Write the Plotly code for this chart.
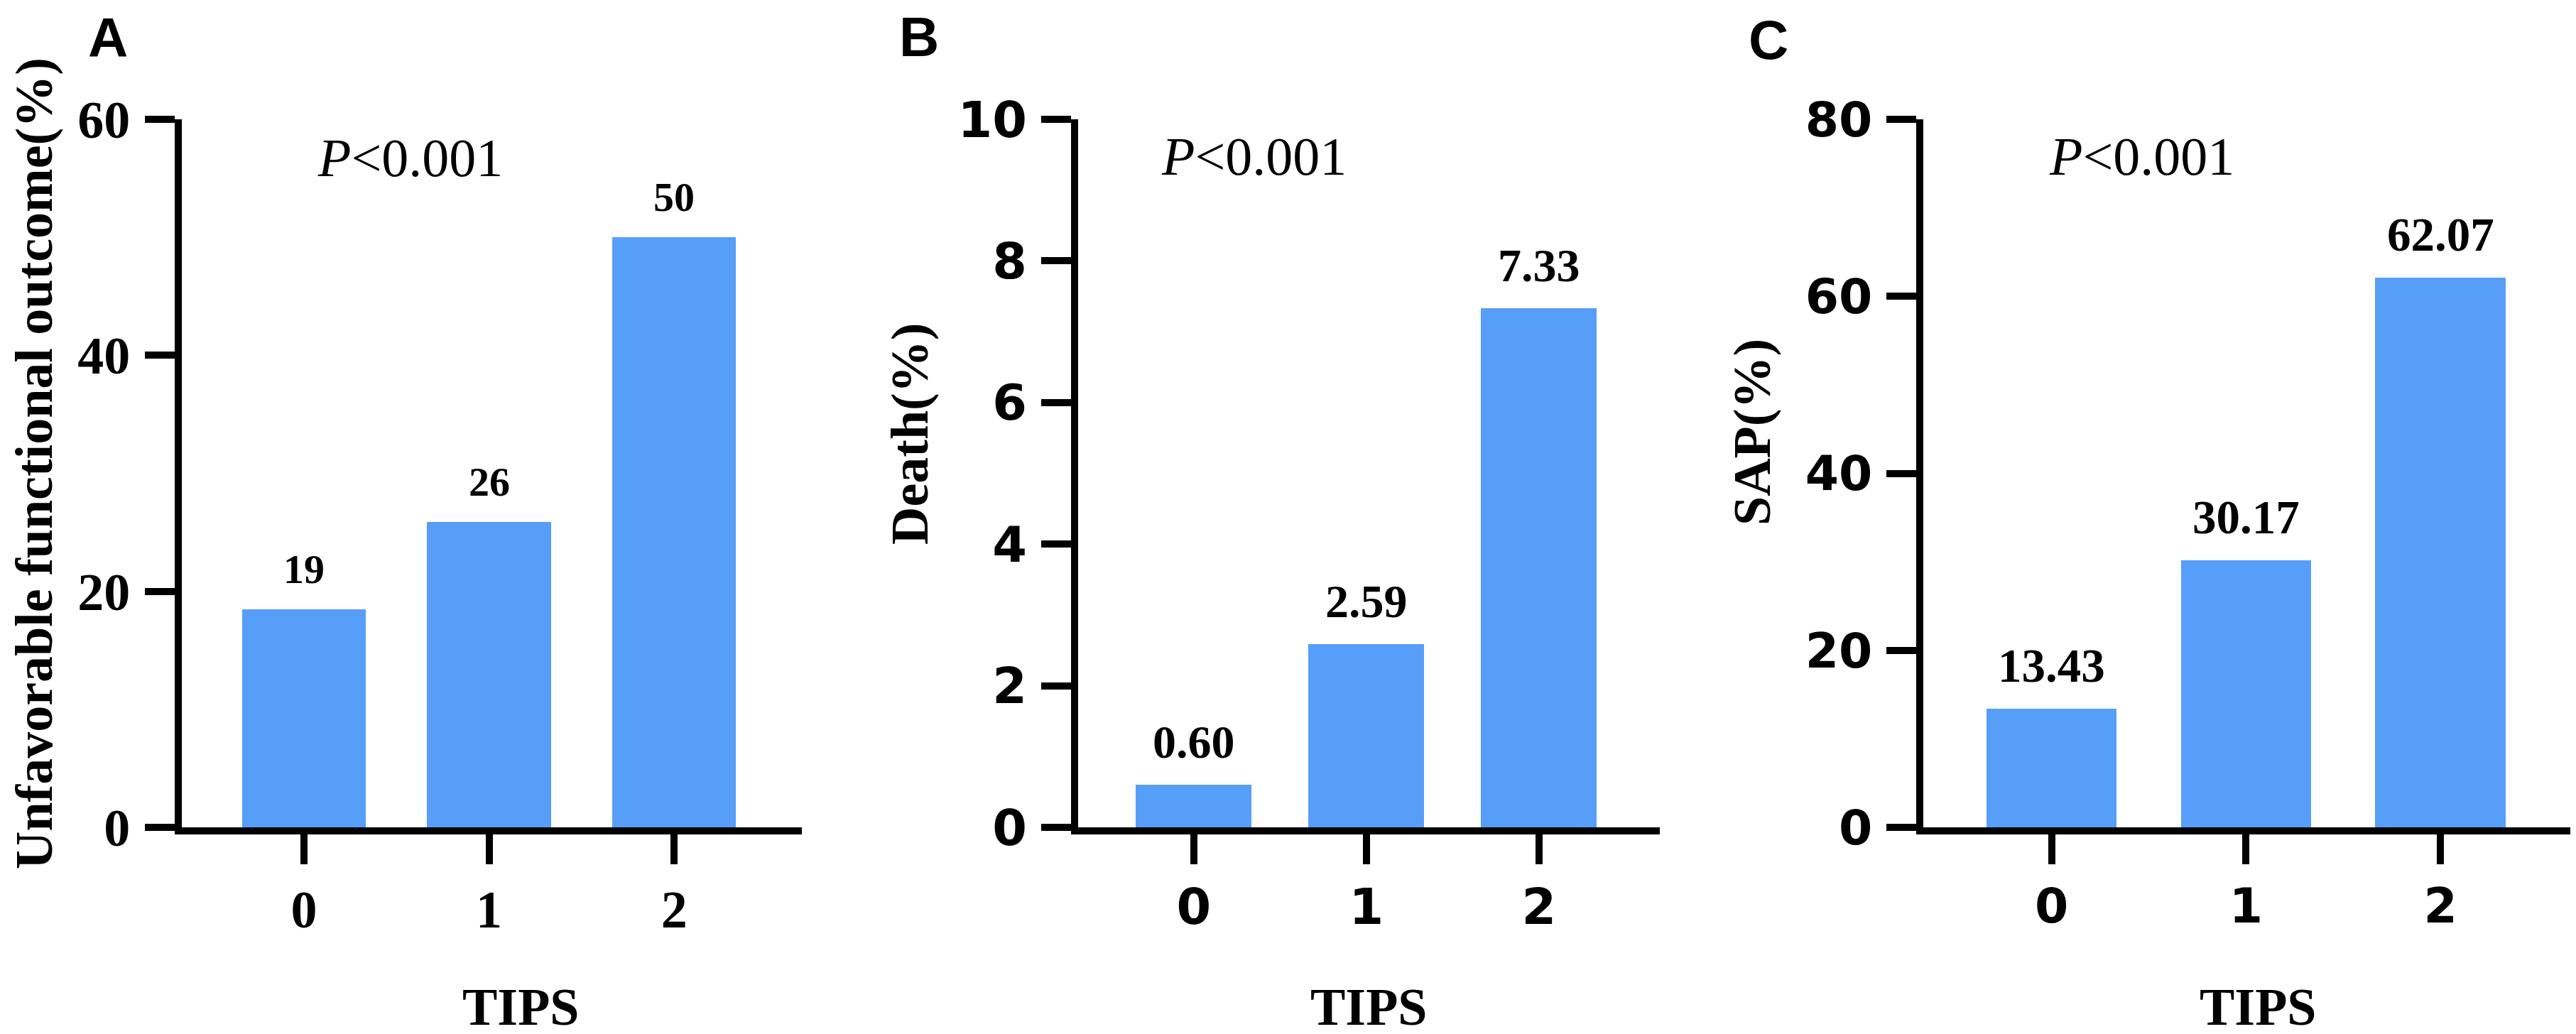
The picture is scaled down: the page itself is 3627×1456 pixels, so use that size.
import plotly.graph_objects as go

# data
tips = ['0', '1', '2']

unfavorable = [18.5, 25.9, 50.0]
unfavorable_text = ['19', '26', '50']

death = [0.60, 2.59, 7.33]
death_text = ['0.60', '2.59', '7.33']

sap = [13.43, 30.17, 62.07]
sap_text = ['13.43', '30.17', '62.07']

panel_letters = ['A', 'B', 'C']
y_titles = ['Unfavorable functional outcome(%)', 'Death(%)', 'SAP(%)']
y_ranges = [[0, 60], [0, 10], [0, 80]]
y_dticks = [20, 2, 20]

W, H = 3627, 1456
BAR_COLOR = '#579ef8'
SERIF = 'Liberation Serif'
SANS = 'DejaVu Sans'


def px_x(p):
    return p / W


def px_y(p):
    return 1 - p / H


# pixel layout of the three panels (axis left, axis right, x-range)
panels = [
    dict(x0=248, x1=1121, xr=[-0.66, 2.69], tickfont=SERIF, tsize=74, vsize=58,
         letter=(144, 45), ptxt=(569, 214), ytitle=(40, 645), xtitle=(725, 1410)),
    dict(x0=1510, x1=2329, xr=[-0.67, 2.70], tickfont=SANS, tsize=70, vsize=66,
         letter=(1286, 44), ptxt=(1757, 212), ytitle=(1273, 603), xtitle=(1919, 1410)),
    dict(x0=2700, x1=3617, xr=[-0.66, 2.69], tickfont=SANS, tsize=68, vsize=67,
         letter=(2482, 48), ptxt=(3007, 212), ytitle=(2459, 601), xtitle=(3171, 1410)),
]
series = [(unfavorable, unfavorable_text), (death, death_text), (sap, sap_text)]

fig = go.Figure()
annotations = []

for i, (p, (vals, labels)) in enumerate(zip(panels, series)):
    n = '' if i == 0 else str(i + 1)
    xa, ya = 'x' + n, 'y' + n

    fig.add_trace(go.Bar(
        x=tips, y=vals, width=0.67,
        marker=dict(color=BAR_COLOR, line=dict(width=0)),
        xaxis=xa, yaxis=ya, showlegend=False, hoverinfo='x+y',
    ))

    axis_common = dict(
        showline=True, linecolor='black', linewidth=10,
        ticks='outside', ticklen=42, tickwidth=10, tickcolor='black',
        showgrid=False, zeroline=False, automargin=False,
        tickfont=dict(family=p['tickfont'], size=p['tsize'], color='black', weight='bold'),
    )
    fig.layout['xaxis' + n] = dict(
        axis_common, domain=[px_x(p['x0']), px_x(p['x1'])], range=p['xr'],
        type='category', anchor=ya, fixedrange=True,
    )
    fig.layout['yaxis' + n] = dict(
        axis_common, domain=[px_y(1157), px_y(160)], range=y_ranges[i],
        dtick=y_dticks[i], anchor=xa, fixedrange=True, ticklabelstandoff=6,
    )

    # value labels above the bars
    for cat, v, t in zip(tips, vals, labels):
        annotations.append(dict(
            x=cat, y=v, xref=xa, yref=ya, text=t, showarrow=False,
            yanchor='bottom', yshift=22,
            font=dict(family=SERIF, size=p['vsize'], color='black', weight='bold'),
        ))

    # panel letter
    lx, ly = p['letter']
    annotations.append(dict(
        x=px_x(lx), y=px_y(ly), xref='paper', yref='paper', text=panel_letters[i],
        showarrow=False, xanchor='center', yanchor='middle',
        font=dict(family='Liberation Sans', size=78, color='black', weight='bold'),
    ))

    # p value
    tx, ty = p['ptxt']
    annotations.append(dict(
        x=px_x(tx), y=px_y(ty), xref='paper', yref='paper',
        text='<i>P</i>&lt;0.001', showarrow=False, xanchor='center', yanchor='middle',
        font=dict(family=SERIF, size=76, color='black'),
    ))

    # y axis title
    yx, yy = p['ytitle']
    annotations.append(dict(
        x=px_x(yx), y=px_y(yy), xref='paper', yref='paper', text=y_titles[i],
        textangle=-90, showarrow=False, xanchor='center', yanchor='middle',
        font=dict(family=SERIF, size=74, color='black', weight='bold'),
    ))

    # x axis title
    xx, xy = p['xtitle']
    annotations.append(dict(
        x=px_x(xx), y=px_y(xy), xref='paper', yref='paper', text='TIPS',
        showarrow=False, xanchor='center', yanchor='middle',
        font=dict(family=SERIF, size=74, color='black', weight='bold'),
    ))

fig.update_layout(
    width=W, height=H,
    margin=dict(l=0, r=0, t=0, b=0, autoexpand=False),
    paper_bgcolor='white', plot_bgcolor='white',
    annotations=annotations,
    bargap=0,
)

fig.write_html('out.html')
